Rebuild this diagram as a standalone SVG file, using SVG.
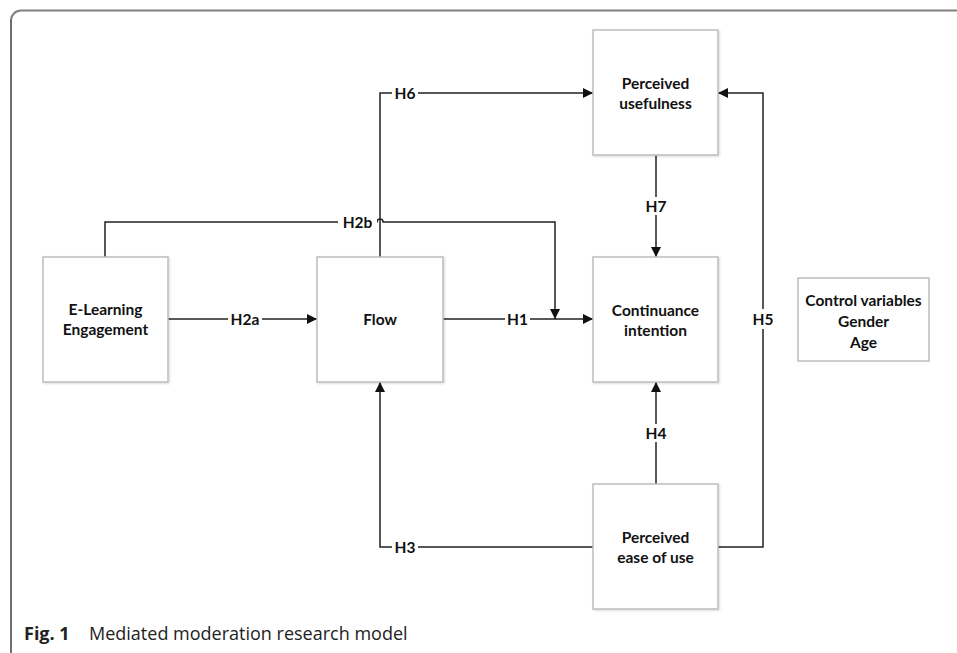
<svg xmlns="http://www.w3.org/2000/svg" width="957" height="653" viewBox="0 0 957 653">
<defs>
<marker id="arr" viewBox="0 0 10 10" refX="10" refY="5" markerWidth="10" markerHeight="10" markerUnits="userSpaceOnUse" orient="auto">
<path d="M0,0 L10,5 L0,10 z" fill="#111"/>
</marker>
<filter id="sh" x="-5%" y="-5%" width="115%" height="115%">
<feDropShadow dx="1" dy="1" stdDeviation="1" flood-color="#000" flood-opacity="0.15"/>
</filter>
</defs>
<style>
.box{fill:#fff;stroke:#bdbdbd;stroke-width:1.5}
.t{font-family:Lato,"Open Sans","Liberation Sans",sans-serif;font-weight:bold;font-size:15.5px;fill:#111;text-anchor:middle}
.c{fill:none;stroke:#222;stroke-width:1.5}
.lb{fill:#fff}
.cap{font-family:"Open Sans","Liberation Sans",sans-serif;font-size:18px;fill:#222}
</style>
<rect width="957" height="653" fill="#fff"/>
<path d="M957,10.5 H21 A10,10 0 0 0 11,20.5" fill="none" stroke="#808080" stroke-width="2"/>
<path d="M11,20 V653" fill="none" stroke="#222" stroke-width="1.3"/>

<g id="connectors">
<path class="c" d="M168,319 H317" marker-end="url(#arr)"/>
<path class="c" d="M443,319 H593" marker-end="url(#arr)"/>
<path class="c" d="M105,257 V222 H377 A3,3 0 0 1 383,222 H555 V319" marker-end="url(#arr)"/>
<path class="c" d="M380,257 V93 H593" marker-end="url(#arr)"/>
<path class="c" d="M656,155 V257" marker-end="url(#arr)"/>
<path class="c" d="M656,484 V382" marker-end="url(#arr)"/>
<path class="c" d="M718,547 H763 V93 H718" marker-end="url(#arr)"/>
<path class="c" d="M593,547 H380 V382" marker-end="url(#arr)"/>
<rect class="lb" x="228" y="310" width="34" height="18"/>
<text class="t" x="245" y="324.5">H2a</text>
<rect class="lb" x="505" y="310" width="25" height="18"/>
<text class="t" x="517.5" y="324.5">H1</text>
<rect class="lb" x="338" y="213" width="39" height="18"/>
<text class="t" x="357.5" y="227.5">H2b</text>
<rect class="lb" x="392" y="84" width="26" height="18"/>
<text class="t" x="405" y="98.5">H6</text>
<rect class="lb" x="643" y="197" width="26" height="18"/>
<text class="t" x="656" y="211.5">H7</text>
<rect class="lb" x="643" y="424" width="26" height="18"/>
<text class="t" x="656" y="438.5">H4</text>
<rect class="lb" x="750" y="309" width="26" height="20"/>
<text class="t" x="763" y="324.5">H5</text>
<rect class="lb" x="392" y="538" width="26" height="18"/>
<text class="t" x="405" y="552.5">H3</text>
</g>

<g id="elearning">
<rect class="box" x="43" y="257" width="125" height="125" filter="url(#sh)"/>
<text class="t" x="105.5" y="314.5">E-Learning</text>
<text class="t" x="105.5" y="335">Engagement</text>
</g>
<g id="flow">
<rect class="box" x="317" y="257" width="126" height="125" filter="url(#sh)"/>
<text class="t" x="380" y="325">Flow</text>
</g>
<g id="usefulness">
<rect class="box" x="593" y="30" width="125" height="125" filter="url(#sh)"/>
<text class="t" x="655.5" y="88.5">Perceived</text>
<text class="t" x="655.5" y="109">usefulness</text>
</g>
<g id="continuance">
<rect class="box" x="593" y="257" width="125" height="125" filter="url(#sh)"/>
<text class="t" x="655.5" y="315.5">Continuance</text>
<text class="t" x="655.5" y="336">intention</text>
</g>
<g id="easeofuse">
<rect class="box" x="593" y="484" width="125" height="125" filter="url(#sh)"/>
<text class="t" x="655.5" y="542.5">Perceived</text>
<text class="t" x="655.5" y="563">ease of use</text>
</g>
<g id="control">
<rect class="box" x="798" y="278" width="131" height="83"/>
<text class="t" x="863.5" y="305.5">Control variables</text>
<text class="t" x="863.5" y="326.5">Gender</text>
<text class="t" x="863.5" y="347.5">Age</text>
</g>
<text class="cap" x="24" y="640"><tspan font-weight="bold">Fig. 1</tspan><tspan x="89">Mediated moderation research model</tspan></text>
</svg>
